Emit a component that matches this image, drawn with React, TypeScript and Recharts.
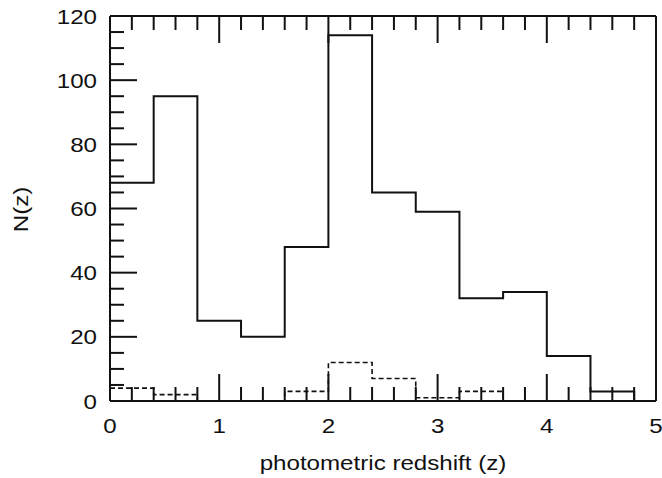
import { ComposedChart, Line, XAxis, YAxis, Label } from 'recharts';

// bin starts (z), last entry closes the histogram
const binStart = [0, 0.4, 0.8, 1.2, 1.6, 2.0, 2.4, 2.8, 3.2, 3.6, 4.0, 4.4, 4.8];
const allCounts = [68, 95, 25, 20, 48, 114, 65, 59, 32, 34, 14, 3, 0];
const subsetCounts = [4, 2, 0, 0, 3, 12, 7, 1, 3, 0, 0, 0, 0];

const xTicks = [
  0, 0.2, 0.4, 0.6, 0.8, 1, 1.2, 1.4, 1.6, 1.8, 2, 2.2, 2.4, 2.6, 2.8, 3,
  3.2, 3.4, 3.6, 3.8, 4, 4.2, 4.4, 4.6, 4.8, 5
];
const yTicks = [
  0, 5, 10, 15, 20, 25, 30, 35, 40, 45, 50, 55, 60, 65, 70, 75, 80, 85, 90,
  95, 100, 105, 110, 115, 120
];

const data = binStart.map((z, i) => ({ z, all: allCounts[i], subset: subsetCounts[i] }));

const INK = '#111';
const FONT = '"Liberation Sans", Arial, Helvetica, sans-serif';
const FS = 21;
const WIDEN = 1.15; // the scanned lettering is a bit wider than Liberation Sans
const MAJOR = 27;
const MINOR = 14;

const isMajorX = (v: number) => Math.abs(v - Math.round(v)) < 1e-6;
const isMajorY = (v: number) => v % 20 === 0;

// text drawn at (x, y) baseline, stretched horizontally
const Txt = ({ x, y, anchor, rotate = 0, children }: any) => (
  <text
    transform={`translate(${x},${y}) rotate(${rotate}) scale(${WIDEN},1)`}
    textAnchor={anchor}
    fontSize={FS}
    fill={INK}
    fontFamily={FONT}
  >
    {children}
  </text>
);

const BottomTick = (props: any) => {
  const { x, y, payload } = props;
  const major = isMajorX(payload.value);
  return (
    <g>
      <line x1={x} x2={x} y1={y} y2={y - (major ? MAJOR : MINOR)} stroke={INK} strokeWidth={2} />
      {major && (
        <Txt x={x} y={y + 32} anchor="middle">
          {Math.round(payload.value)}
        </Txt>
      )}
    </g>
  );
};

const TopTick = (props: any) => {
  const { x, y, payload } = props;
  const major = isMajorX(payload.value);
  return <line x1={x} x2={x} y1={y} y2={y + (major ? MAJOR : MINOR)} stroke={INK} strokeWidth={2} />;
};

const LeftTick = (props: any) => {
  const { x, y, payload } = props;
  const major = isMajorY(payload.value);
  return (
    <g>
      <line x1={x} x2={x + (major ? MAJOR : MINOR)} y1={y} y2={y} stroke={INK} strokeWidth={2} />
      {major && (
        <Txt x={x - 13} y={y + 7.5} anchor="end">
          {payload.value}
        </Txt>
      )}
    </g>
  );
};

const RightTick = (props: any) => {
  const { x, y, payload } = props;
  const major = isMajorY(payload.value);
  return <line x1={x} x2={x - (major ? MAJOR : MINOR)} y1={y} y2={y} stroke={INK} strokeWidth={2} />;
};

const XTitle = (props: any) => {
  const { viewBox } = props;
  return (
    <Txt x={viewBox.x + viewBox.width / 2} y={viewBox.y + 69} anchor="middle">
      photometric redshift (z)
    </Txt>
  );
};

const YTitle = (props: any) => {
  const { viewBox } = props;
  return (
    <Txt x={28} y={viewBox.y + viewBox.height / 2 + 1} anchor="middle" rotate={-90}>
      N(z)
    </Txt>
  );
};

const App = () => {
  return (
    <div style={{ position: 'absolute', left: 0, top: 0, background: '#fff' }}>
      <ComposedChart
        width={662}
        height={478}
        data={data}
        margin={{ top: 15, right: 5, left: 0, bottom: 0 }}
      >
        <XAxis
          xAxisId="bottom"
          dataKey="z"
          type="number"
          domain={[0, 5]}
          ticks={xTicks}
          interval={0}
          height={77}
          tickSize={0}
          tickMargin={0}
          tick={(p: any) => <BottomTick {...p} />}
          axisLine={{ stroke: INK, strokeWidth: 2 }}
        >
          <Label content={(p: any) => <XTitle {...p} />} />
        </XAxis>
        <XAxis
          xAxisId="top"
          orientation="top"
          dataKey="z"
          type="number"
          domain={[0, 5]}
          ticks={xTicks}
          interval={0}
          height={1}
          tickSize={0}
          tickMargin={0}
          tick={(p: any) => <TopTick {...p} />}
          axisLine={{ stroke: INK, strokeWidth: 2 }}
        />
        <YAxis
          yAxisId="left"
          type="number"
          domain={[0, 120]}
          ticks={yTicks}
          interval={0}
          width={110}
          tickSize={0}
          tickMargin={0}
          tick={(p: any) => <LeftTick {...p} />}
          axisLine={{ stroke: INK, strokeWidth: 2 }}
        >
          <Label content={(p: any) => <YTitle {...p} />} />
        </YAxis>
        <YAxis
          yAxisId="right"
          orientation="right"
          type="number"
          domain={[0, 120]}
          ticks={yTicks}
          interval={0}
          width={1}
          tickSize={0}
          tickMargin={0}
          tick={(p: any) => <RightTick {...p} />}
          axisLine={{ stroke: INK, strokeWidth: 2 }}
        />
        <Line
          xAxisId="bottom"
          yAxisId="left"
          type="stepAfter"
          dataKey="subset"
          stroke={INK}
          strokeWidth={1.6}
          strokeDasharray="5 3"
          dot={false}
          activeDot={false}
          isAnimationActive={false}
        />
        <Line
          xAxisId="bottom"
          yAxisId="left"
          type="stepAfter"
          dataKey="all"
          stroke={INK}
          strokeWidth={2}
          dot={false}
          activeDot={false}
          isAnimationActive={false}
        />
      </ComposedChart>
    </div>
  );
};

export default App;
